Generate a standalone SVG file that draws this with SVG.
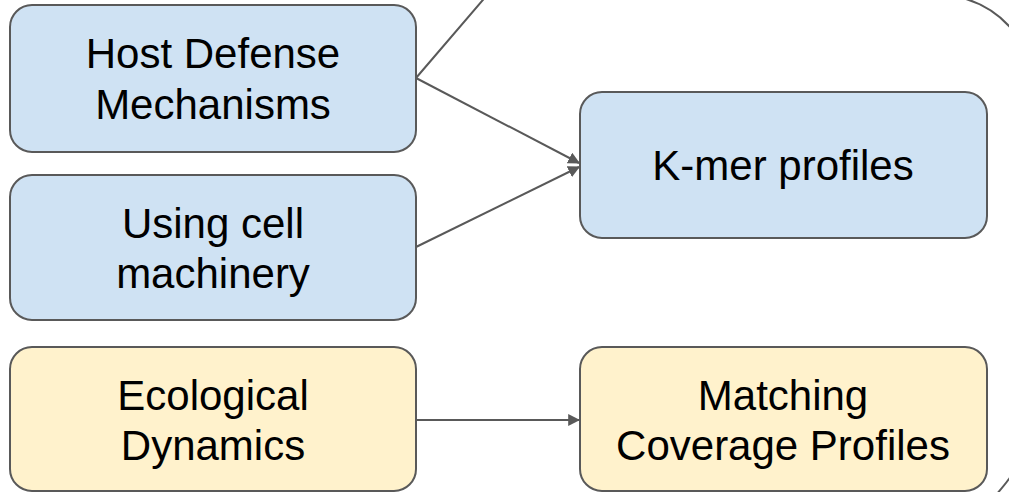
<svg xmlns="http://www.w3.org/2000/svg" width="1009" height="492" viewBox="0 0 1009 492">
<style>
.box{stroke:#595959;stroke-width:2}
.blue{fill:#cfe2f3}
.yellow{fill:#fff2cc}
.lbl{font-family:"Liberation Sans",Arial,sans-serif;font-size:42px;fill:#000;text-anchor:middle}
.conn{fill:none;stroke:#595959;stroke-width:2}
</style>
<defs>
<marker id="arr" viewBox="0 0 10 10" refX="9" refY="5" markerWidth="6" markerHeight="6" markerUnits="strokeWidth" orient="auto">
<path d="M0,0 L10,5 L0,10 z" fill="#595959"/>
</marker>
</defs>
<rect width="1009" height="492" fill="#ffffff"/>
<g id="connectors">
<path class="conn" d="M416 78 L488 -6 L930 -6 C970 -6 1000 10 1020 40 L1020 460 C1012 478 1000 490 990 502"/>
<line class="conn" x1="416" y1="78" x2="579" y2="163" marker-end="url(#arr)"/>
<line class="conn" x1="416" y1="247" x2="579" y2="167" marker-end="url(#arr)"/>
<line class="conn" x1="416" y1="420" x2="579" y2="420" marker-end="url(#arr)"/>
</g>
<g id="host-defense">
<rect class="box blue" x="10" y="5" width="406" height="147" rx="22"/>
<text class="lbl" x="213" y="68">Host Defense</text>
<text class="lbl" x="213" y="119">Mechanisms</text>
</g>
<g id="using-cell">
<rect class="box blue" x="10" y="175" width="406" height="145" rx="22"/>
<text class="lbl" x="213" y="238">Using cell</text>
<text class="lbl" x="213" y="288">machinery</text>
</g>
<g id="ecological">
<rect class="box yellow" x="10" y="347" width="406" height="144" rx="22"/>
<text class="lbl" x="213" y="410">Ecological</text>
<text class="lbl" x="213" y="460">Dynamics</text>
</g>
<g id="kmer">
<rect class="box blue" x="580" y="92" width="407" height="146" rx="22"/>
<text class="lbl" x="783" y="180">K-mer profiles</text>
</g>
<g id="matching">
<rect class="box yellow" x="580" y="347" width="407" height="144" rx="22"/>
<text class="lbl" x="783" y="410">Matching</text>
<text class="lbl" x="783" y="460">Coverage Profiles</text>
</g>
</svg>
